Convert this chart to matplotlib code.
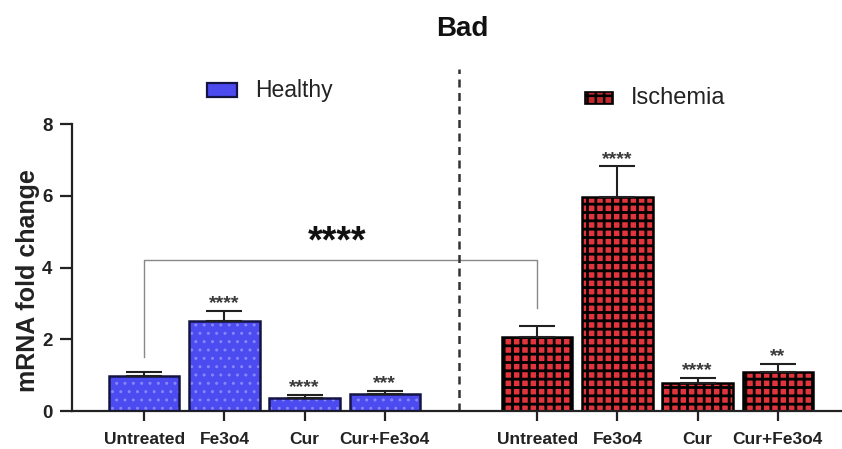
import numpy as np
import matplotlib
matplotlib.use("Agg")
import matplotlib.pyplot as plt
from matplotlib.patches import Rectangle

plt.rcParams['font.family'] = ['Liberation Sans', 'DejaVu Sans']

# data
groups = ["Untreated", "Fe3o4", "Cur", "Cur+Fe3o4"]
healthy_mean = [0.97, 2.50, 0.37, 0.48]
healthy_err = [0.13, 0.30, 0.08, 0.08]
healthy_sig = ["", "****", "****", "***"]
ischemia_mean = [2.05, 5.97, 0.78, 1.10]
ischemia_err = [0.33, 0.85, 0.14, 0.22]
ischemia_sig = ["", "****", "****", "**"]
yticks = [0, 2, 4, 6, 8]

xh = np.arange(4)
xi = np.arange(4) + 4.9
width = 0.88

fig = plt.figure(figsize=(8.42, 4.49), dpi=100)
ax = fig.add_axes([0.0855, 0.0846, 0.9145, 0.6392])

blue = "#4b4bf0"
blue_dot = "#8585ff"
navy = "#141445"
red = "#e2343c"


def hatched(patch, lw):
    # per-patch hatch width where supported
    if hasattr(patch, "set_hatch_linewidth"):
        patch.set_hatch_linewidth(lw)


with plt.rc_context({"hatch.linewidth": 1.0}):
    hb = ax.bar(xh, healthy_mean, width, color=blue, edgecolor=blue_dot,
                linewidth=0, hatch="..", zorder=2)
for p in hb:
    hatched(p, 1.0)
ax.bar(xh, healthy_mean, width, color="none", edgecolor=navy,
       linewidth=1.8, zorder=3)

with plt.rc_context({"hatch.linewidth": 2.0}):
    ib = ax.bar(xi, ischemia_mean, width, color=red, edgecolor="black",
                linewidth=1.8, hatch="++", zorder=2)
for p in ib:
    hatched(p, 2.0)

for x, m, e in zip(list(xh) + list(xi), healthy_mean + ischemia_mean,
                   healthy_err + ischemia_err):
    ax.errorbar(x, m, yerr=[[0], [e]], fmt="none", ecolor="#202020",
                elinewidth=1.5, capsize=13, capthick=1.5, zorder=4)

for x, m, e, s in zip(list(xh) + list(xi), healthy_mean + ischemia_mean,
                      healthy_err + ischemia_err, healthy_sig + ischemia_sig):
    if s:
        ax.text(x, m + e - 0.04, s, ha="center", va="bottom", fontsize=14,
                fontweight="bold", color="#3a3a3a")

# comparison bracket
yb = 4.2
ax.plot([xh[0], xh[0], xi[0], xi[0]],
        [healthy_mean[0] + healthy_err[0] + 0.4, yb, yb,
         ischemia_mean[0] + ischemia_err[0] + 0.5],
        color="#888888", lw=1.0, zorder=1)
ax.text((xh[0] + xi[0]) / 2 - 0.04, yb + 0.0, "****", ha="center",
        va="bottom", fontsize=27, fontweight="bold", color="#111111")

# dividing dashed line
ax.axvline(3.93, ymin=0, ymax=1.19, color="#333333", lw=1.8,
           ls=(0, (3.2, 2.2)), clip_on=False)

ax.set_xlim(-0.9, 8.7)
ax.set_ylim(0, 8)
ax.set_yticks(yticks)
ax.set_xticks(list(xh) + list(xi))
ax.set_xticklabels(groups + groups, fontsize=12.5, fontweight="bold",
                   color="#222222")
for lab in ax.get_yticklabels():
    lab.set_fontweight("bold")
    lab.set_fontsize(13.5)
    lab.set_color("#222222")
ax.tick_params(axis="both", width=1.6, length=7, color="#222222")
ax.tick_params(axis="x", pad=8)
ax.tick_params(axis="y", length=9, pad=5)
ax.set_ylabel("mRNA fold change", fontsize=18, fontweight="bold",
              color="#222222")
ax.yaxis.set_label_coords(-0.041, 0.456)
for side in ["top", "right"]:
    ax.spines[side].set_visible(False)
for side in ["left", "bottom"]:
    ax.spines[side].set_linewidth(1.6)
    ax.spines[side].set_color("#222222")

# legends
fig.patches.append(Rectangle((207 / 842, 1 - 97 / 449), 30 / 842, 14 / 449,
                             transform=fig.transFigure, facecolor=blue,
                             edgecolor=navy, lw=1.6))
fig.text(255 / 842, 1 - 90 / 449, "Healthy", fontsize=16.5, va="center",
         color="#222222")
with plt.rc_context({"hatch.linewidth": 1.8}):
    lp = Rectangle((585 / 842, 1 - 104 / 449), 28 / 842, 12 / 449,
                   transform=fig.transFigure, facecolor="#c02830",
                   edgecolor="black", hatch="++", lw=1.2)
hatched(lp, 1.8)
fig.patches.append(lp)
fig.text(631 / 842, 1 - 98 / 449, "Ischemia", fontsize=17, va="center",
         color="#222222")

fig.text(462 / 842, 1 - 29 / 449, "Bad", fontsize=20, fontweight="bold",
         ha="center", va="center", color="#111111")

fig.savefig("out.png", dpi=100)
